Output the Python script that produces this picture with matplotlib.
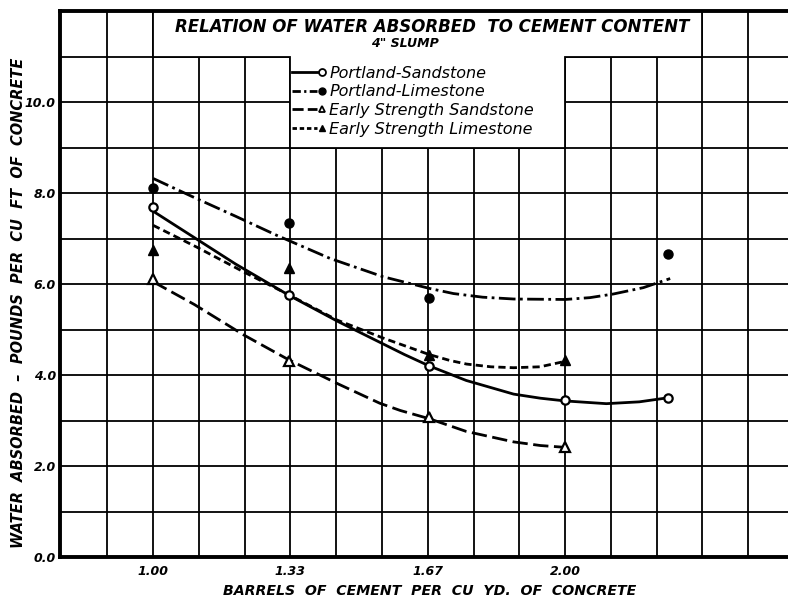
import numpy as np
import matplotlib.pyplot as plt
from matplotlib.legend_handler import HandlerLine2DCompound
from matplotlib.patches import Polygon

# measured points: barrels of cement per cu yd vs water absorbed (lb per cu ft)
ps_x = [1.00, 1.33, 1.67, 2.00, 2.25]
ps_y = [7.70, 5.75, 4.20, 3.45, 3.50]
pl_x = [1.00, 1.33, 1.67, 2.25]
pl_y = [8.10, 7.35, 5.70, 6.65]
ess_x = [1.00, 1.33, 1.67, 2.00]
ess_y = [6.10, 4.30, 3.08, 2.42]
esl_x = [1.00, 1.33, 1.67, 2.00]
esl_y = [6.75, 6.35, 4.43, 4.32]

# faired curves drawn through each set
ps_cx = [1.00, 1.10, 1.20, 1.33, 1.45, 1.55, 1.61, 1.67, 1.76, 1.875, 1.94, 2.00, 2.10, 2.18, 2.25]
ps_cy = [7.60, 7.02, 6.44, 5.75, 5.17, 4.72, 4.45, 4.20, 3.88, 3.58, 3.49, 3.43, 3.37, 3.41, 3.50]
pl_cx = [1.00, 1.10, 1.20, 1.30, 1.43, 1.558, 1.672, 1.729, 1.80, 1.875, 2.00, 2.06, 2.117, 2.19, 2.255]
pl_cy = [8.32, 7.90, 7.49, 7.07, 6.56, 6.16, 5.90, 5.79, 5.71, 5.67, 5.66, 5.70, 5.78, 5.92, 6.12]
ess_cx = [1.00, 1.10, 1.22, 1.33, 1.45, 1.55, 1.60, 1.67, 1.76, 1.875, 1.94, 2.00]
ess_cy = [6.05, 5.55, 4.88, 4.33, 3.80, 3.38, 3.22, 3.04, 2.76, 2.53, 2.45, 2.41]
esl_cx = [1.00, 1.106, 1.219, 1.33, 1.446, 1.559, 1.67, 1.72, 1.761, 1.82, 1.875, 1.939, 2.00]
esl_cy = [7.29, 6.81, 6.27, 5.76, 5.21, 4.81, 4.45, 4.32, 4.24, 4.18, 4.16, 4.18, 4.30]

x_ticks = [1.00, 4 / 3, 5 / 3, 2.00]
x_ticklabels = ['1.00', '1.33', '1.67', '2.00']
y_ticks = [0, 2, 4, 6, 8, 10]

FONT = 'DejaVu Sans'
LW = 2.0


class EndMarker(HandlerLine2DCompound):
    # line sample first, marker sitting just past its right end
    def get_xdata(self, legend, xdescent, ydescent, width, height, fontsize):
        xdata = np.array([-xdescent, -xdescent + width])
        return xdata, np.array([-xdescent + width + 0.3 * fontsize])


fig = plt.figure(figsize=(7.88, 6.07), dpi=100)
ax = fig.add_axes([60 / 788, 50 / 607, 728 / 788, 546 / 607])
ax.set_xlim(0.774, 2.541)
ax.set_ylim(0, 12)

# grid: every 1/9 barrel across, every 1.0 lb up
ax.set_xticks(x_ticks)
ax.set_xticklabels(x_ticklabels)
ax.set_xticks([1 + k / 9 for k in range(-1, 14)], minor=True)
ax.set_yticks(y_ticks)
ax.set_yticklabels([f'{v:.1f}' for v in y_ticks])
ax.set_yticks(range(1, 12), minor=True)
ax.grid(True, which='both', color='black', linewidth=1.3)
ax.set_axisbelow(True)
ax.tick_params(which='both', length=0)
ax.tick_params(axis='x', pad=6)
ax.tick_params(axis='y', pad=3)
for lab in ax.get_xticklabels() + ax.get_yticklabels():
    lab.set_fontfamily(FONT)
    lab.set_fontstyle('oblique')
    lab.set_fontweight('bold')
    lab.set_fontsize(9)

for side in ['left', 'bottom', 'top']:
    ax.spines[side].set_linewidth(2.8)
ax.spines['right'].set_visible(False)

# white panel for the title and key
panel = Polygon([(1.0, 12), (1 + 12 / 9, 12), (1 + 12 / 9, 11), (2.0, 11),
                 (2.0, 9), (1 + 3 / 9, 9), (1 + 3 / 9, 11), (1.0, 11)],
                closed=True, facecolor='white', edgecolor='black',
                linewidth=1.3, zorder=1)
ax.add_patch(panel)

curve_kw = dict(color='black', lw=LW, zorder=3, solid_joinstyle='round',
                dash_joinstyle='round')
ax.plot(ps_cx, ps_cy, ls='-', **curve_kw)
ax.plot(pl_cx, pl_cy, dashes=(6, 1.6, 1, 1.6), **curve_kw)
ax.plot(ess_cx, ess_cy, dashes=(5.5, 2), **curve_kw)
ax.plot(esl_cx, esl_cy, dashes=(2.6, 1.5), **curve_kw)

ax.plot(ps_x, ps_y, 'o', ms=6, mfc='white', mec='black', mew=1.6, zorder=4)
ax.plot(pl_x, pl_y, 'o', ms=6.5, mfc='black', mec='black', zorder=4)
ax.plot(ess_x, ess_y, '^', ms=7.5, mfc='white', mec='black', mew=1.6, zorder=4)
ax.plot(esl_x, esl_y, '^', ms=7.5, mfc='black', mec='black', zorder=4)

# key handles
h1, = ax.plot([], [], color='black', lw=LW, ls='-', marker='o', ms=5,
              mfc='white', mec='black', mew=1.3)
h2, = ax.plot([], [], color='black', lw=LW, dashes=(3, 1.2, 0.8, 1.2),
              marker='o', ms=5, mfc='black', mec='black')
h3, = ax.plot([], [], color='black', lw=LW, dashes=(4, 1.5), marker='^',
              ms=5, mfc='white', mec='black', mew=1.3)
h4, = ax.plot([], [], color='black', lw=LW, dashes=(1.6, 1.0), marker='^',
              ms=5, mfc='black', mec='black')
ax.legend([h1, h2, h3, h4],
          ['Portland-Sandstone', 'Portland-Limestone',
           'Early Strength Sandstone', 'Early Strength Limestone'],
          handler_map={h: EndMarker() for h in [h1, h2, h3, h4]},
          loc='upper left', bbox_to_anchor=(1.337, 10.80),
          bbox_transform=ax.transData, frameon=False, borderpad=0,
          borderaxespad=0, handlelength=1.55, handletextpad=0.8,
          labelspacing=0.23, prop={'family': FONT, 'style': 'oblique', 'size': 11.5})

ax.text(1.677, 11.65, 'RELATION OF WATER ABSORBED  TO CEMENT CONTENT',
        ha='center', va='center', fontsize=12, fontfamily=FONT,
        fontstyle='oblique', fontweight='bold', zorder=5)
ax.text(1.61, 11.29, '4" SLUMP', ha='center', va='center', fontsize=9,
        fontfamily=FONT, fontstyle='oblique', fontweight='bold', zorder=5)

fig.text(430 / 788, 1 - 591 / 607, 'BARRELS  OF  CEMENT  PER  CU  YD.  OF  CONCRETE',
         ha='center', va='center', fontsize=10.2, fontfamily=FONT,
         fontstyle='oblique', fontweight='bold')
fig.text(19 / 788, 1 - 303 / 607,
         'WATER  ABSORBED  \u2013  POUNDS  PER  CU  FT  OF  CONCRETE',
         ha='center', va='center', rotation=90, fontsize=10.5, fontfamily=FONT,
         fontstyle='oblique', fontweight='bold')

fig.savefig('out.png', dpi=100)
